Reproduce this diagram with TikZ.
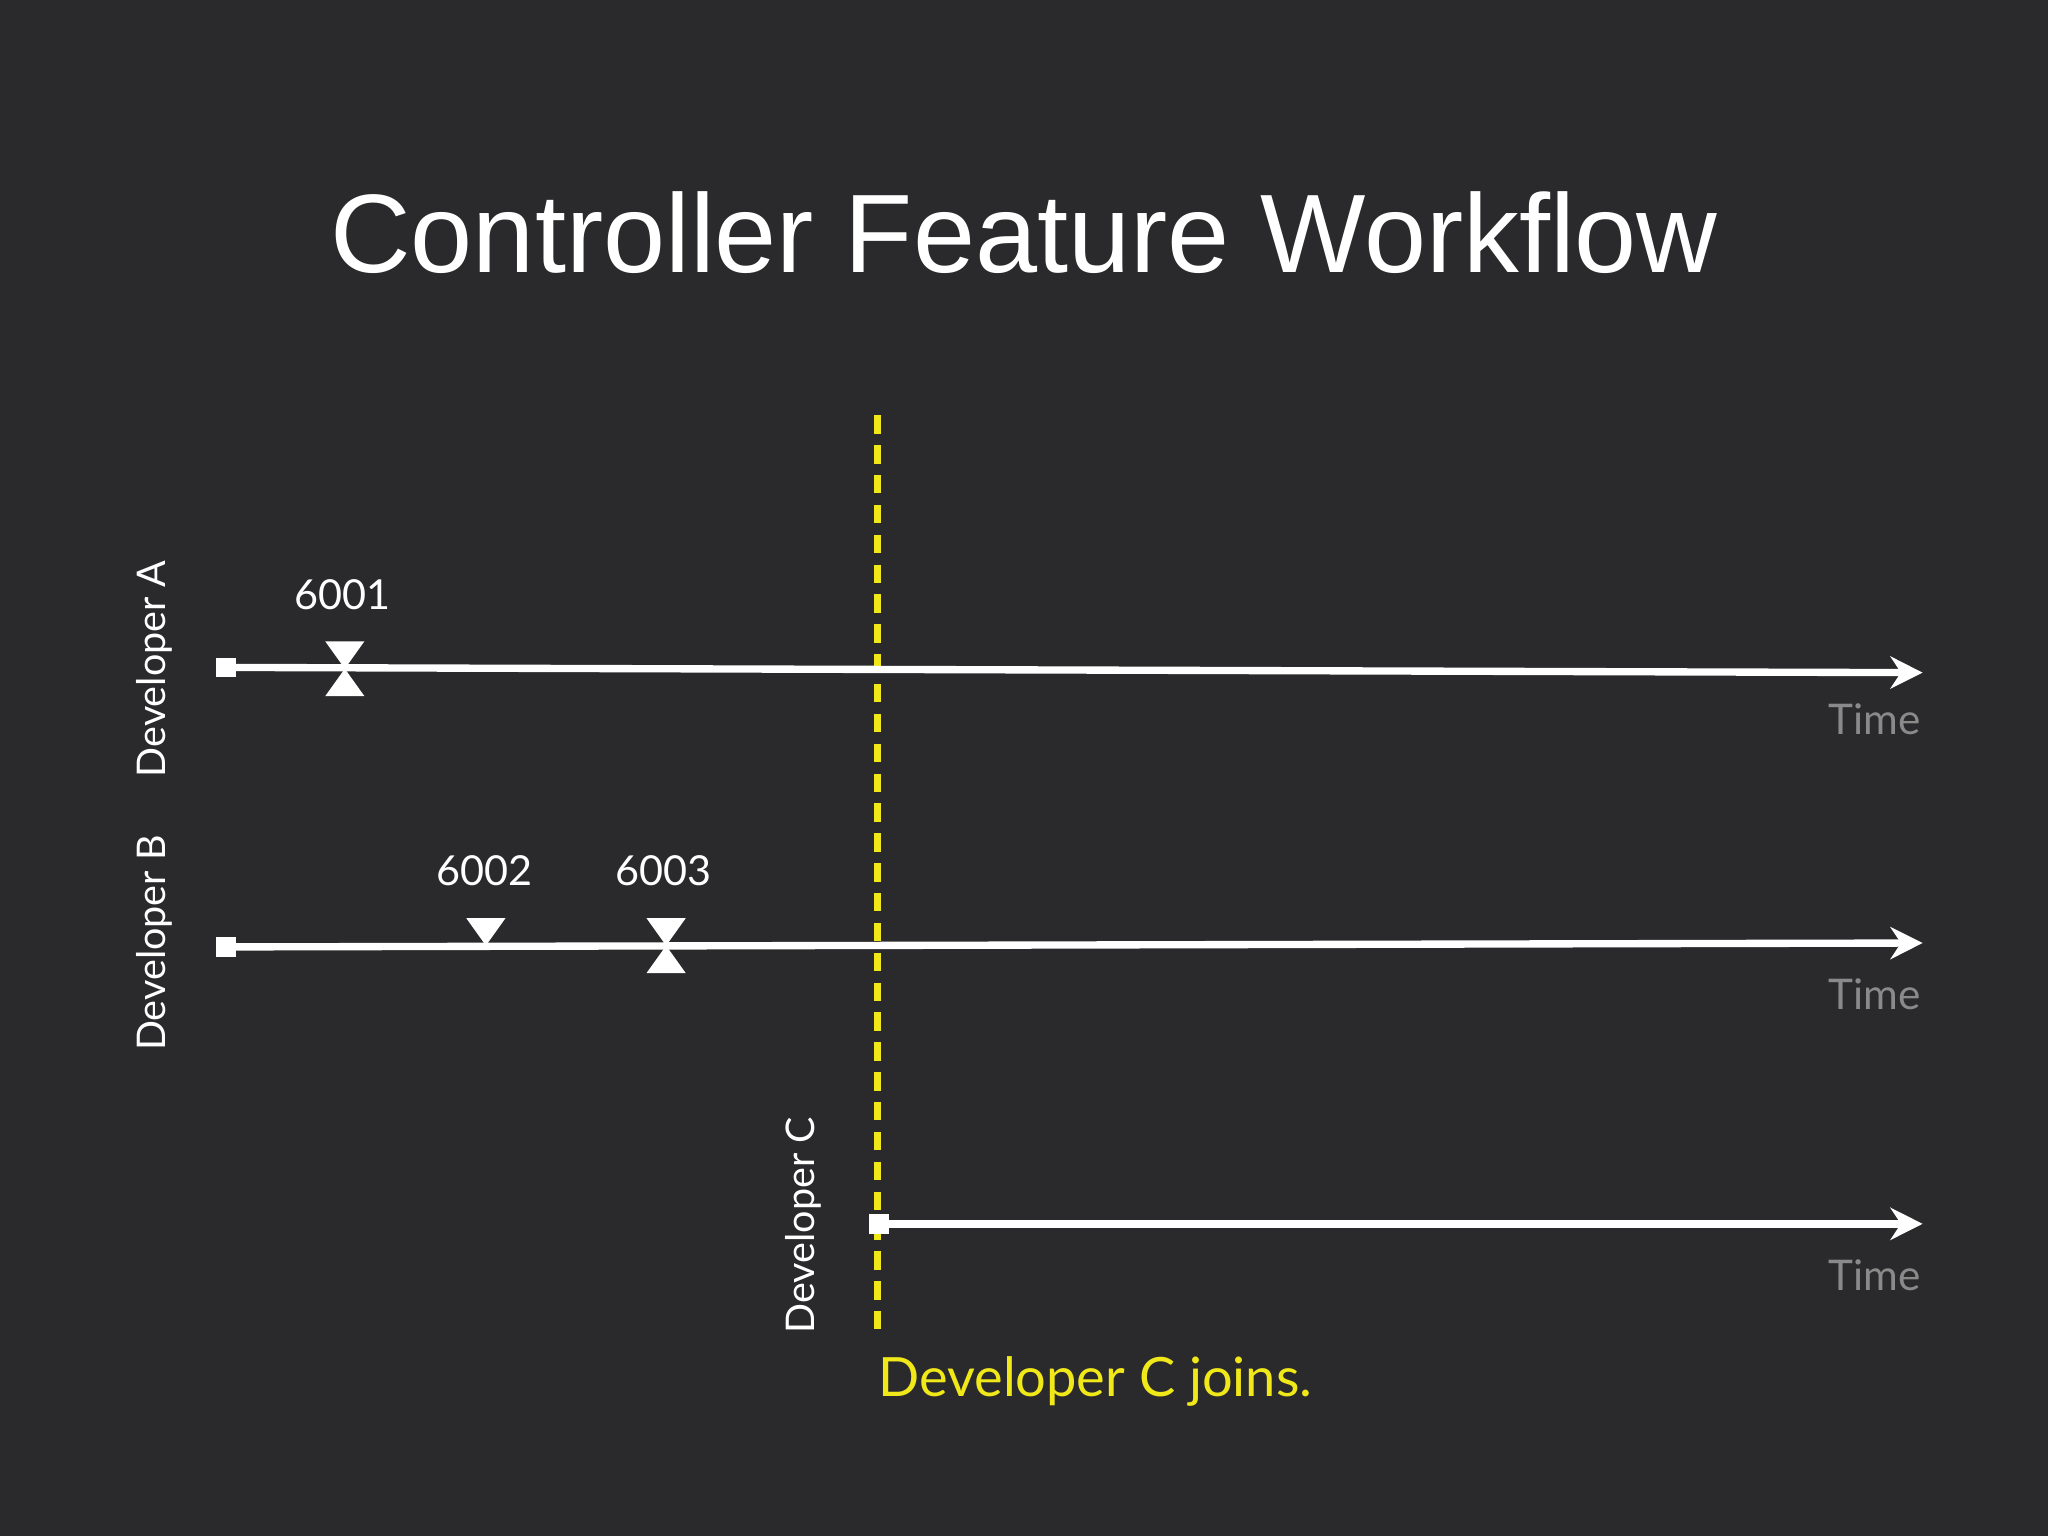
\documentclass[tikz,border=0pt]{standalone}
\usepackage{fontspec}
\setmainfont{Lato}
\newfontfamily\titlefont{Liberation Sans}
\usetikzlibrary{arrows.meta,calc}
\definecolor{bg}{HTML}{2A2A2C}
\definecolor{tgray}{HTML}{8A8A8A}
\definecolor{yel}{HTML}{F0E818}
\tikzset{
  tl/.style={white,line width=1.6pt,-{Stealth[length=7pt,width=7pt]}},
  startsq/.style={fill=white,minimum size=0.15cm,inner sep=0pt},
  lbl/.style={white,font=\fontsize{9}{11}\selectfont},
  dev/.style={white,rotate=90,font=\fontsize{8.6}{11}\selectfont},
  timel/.style={tgray,font=\fontsize{9.2}{11}\selectfont},
}
\newcommand{\downtri}[1]{\fill[white] ($(#1)+(-15,-21)$) -- ($(#1)+(15,-21)$) -- (#1) -- cycle;}
\newcommand{\uptri}[1]{\fill[white] ($(#1)+(-15,21)$) -- ($(#1)+(15,21)$) -- (#1) -- cycle;}
\begin{document}
\begin{tikzpicture}[x=0.01cm,y=-0.01cm]
\fill[bg] (0,0) rectangle (1568,1176);
\useasboundingbox (0,0) rectangle (1568,1176);
\node[white,font=\titlefont\fontsize{24.3}{30}\selectfont] (title) at (784,178) {Controller Feature Workflow};
\coordinate (yt) at (672,318); \coordinate (yb) at (672,1020);
\draw[yel,line width=1.6pt,dash pattern=on 4pt off 2.5pt] (yt) -- (yb);
\node[startsq] (sa) at (173,511) {};
\coordinate (ea) at (1472,515);
\draw[tl] (sa.center) -- (ea);
\node[startsq] (sb) at (173,725) {};
\coordinate (eb) at (1472,722);
\draw[tl] (sb.center) -- (eb);
\node[startsq] (sc) at (673,937) {};
\coordinate (ec) at (1472,937);
\draw[tl] (sc.center) -- (ec);
\coordinate (m1) at (264,512);
\coordinate (m2) at (372,724);
\coordinate (m3) at (510,724);
\downtri{m1}\uptri{m1}
\downtri{m2}
\downtri{m3}\uptri{m3}
\node[lbl] (l1) at (262,455) {6001};
\node[lbl] (l2) at (371,667) {6002};
\node[lbl] (l3) at (508,667) {6003};
\node[dev] (da) at (118,512) {Developer A};
\node[dev] (db) at (118,722) {Developer B};
\node[dev] (dc) at (615,938) {Developer C};
\node[timel] (t1) at (1435,551) {Time};
\node[timel] (t2) at (1435,761) {Time};
\node[timel] (t3) at (1435,976) {Time};
\node[yel,anchor=west,font=\fontsize{11.8}{15}\selectfont] (join) at (660,1058) {Developer C joins.};
\end{tikzpicture}
\end{document}
